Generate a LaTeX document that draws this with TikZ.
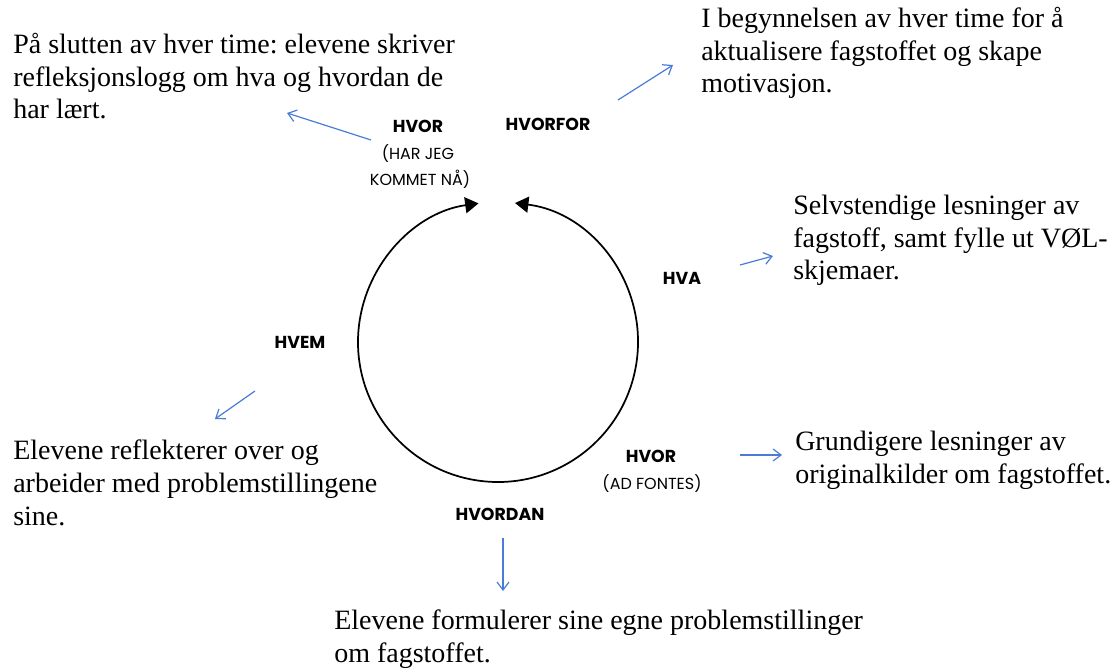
\documentclass[tikz,border=0pt]{standalone}
\usepackage{fontspec}
\setmainfont{Liberation Serif}
\newfontfamily\labfont{Poppins}
\usetikzlibrary{arrows.meta}
\definecolor{arrblue}{RGB}{74,124,214}
\frenchspacing
\tikzset{
  bodytext/.style={font=\fontsize{21}{24.4}\selectfont, align=left, inner sep=0pt, anchor=base west},
  stagelab/.style={font=\labfont\bfseries\fontsize{13}{15}\selectfont, inner sep=0pt, anchor=base},
  sublab/.style={font=\labfont\fontsize{12}{14}\selectfont, inner sep=0pt, anchor=base},
  bluearrow/.style={draw=arrblue, line width=0.9pt, -{Straight Barb[length=6pt,width=9pt]}},
  cycle/.style={draw=black, line width=1.3pt, {Triangle[length=10pt,width=12pt]}-{Triangle[length=10pt,width=12pt]}}
}
\begin{document}
\begin{tikzpicture}[x=0.75pt,y=0.75pt]
\useasboundingbox (0,0) rectangle (1111,-670);
% cycle
\coordinate (cc) at (498,-342);
\draw[cycle] ([shift={(83:140)}]cc) arc[start angle=83, end angle=-262, radius=140];
% stage labels
\node[stagelab] (hvorA) at (418,-133) {HVOR};
\node[sublab] (hvorAa) at (418,-160) {(HAR JEG};
\node[sublab] (hvorAb) at (420,-186) {KOMMET NÅ)};
\node[stagelab] (hvorfor) at (548,-131) {HVORFOR};
\node[stagelab] (hva) at (682,-285) {HVA};
\node[stagelab] (hvem) at (300,-349) {HVEM};
\node[stagelab] (hvorB) at (651,-462) {HVOR};
\node[sublab] (hvorBa) at (652,-489) {(AD FONTES)};
\node[stagelab] (hvordan) at (500,-520) {HVORDAN};
% texts (anchored at the baseline of the last line)
\node[bodytext] (t1) at (13,-119) {På slutten av hver time: elevene skriver\\refleksjonslogg om hva og hvordan de\\har lært.};
\node[bodytext] (t2) at (701,-93) {I begynnelsen av hver time for å\\aktualisere fagstoffet og skape\\motivasjon.};
\node[bodytext] (t3) at (793,-280) {Selvstendige lesninger av\\fagstoff, samt fylle ut VØL-\\skjemaer.};
\node[bodytext] (t4) at (13,-525) {Elevene reflekterer over og\\arbeider med problemstillingene\\sine.};
\node[bodytext] (t5) at (795,-483) {Grundigere lesninger av\\originalkilder om fagstoffet.};
\node[bodytext] (t6) at (334,-662) {Elevene formulerer sine egne problemstillinger\\om fagstoffet.};
% blue arrows
\coordinate (a1s) at (371,-140); \coordinate (a1e) at (287,-113);
\coordinate (a2s) at (618,-100); \coordinate (a2e) at (673,-65);
\coordinate (a3s) at (740,-265); \coordinate (a3e) at (773,-256);
\coordinate (a4s) at (255,-391); \coordinate (a4e) at (215,-419);
\coordinate (a5s) at (740,-455); \coordinate (a5e) at (782,-455);
\coordinate (a6s) at (503,-538); \coordinate (a6e) at (503,-591);
\draw[bluearrow] (a1s) -- (a1e);
\draw[bluearrow] (a2s) -- (a2e);
\draw[bluearrow] (a3s) -- (a3e);
\draw[bluearrow] (a4s) -- (a4e);
\draw[bluearrow] (a5s) -- (a5e);
\draw[bluearrow] (a6s) -- (a6e);
\end{tikzpicture}
\end{document}
